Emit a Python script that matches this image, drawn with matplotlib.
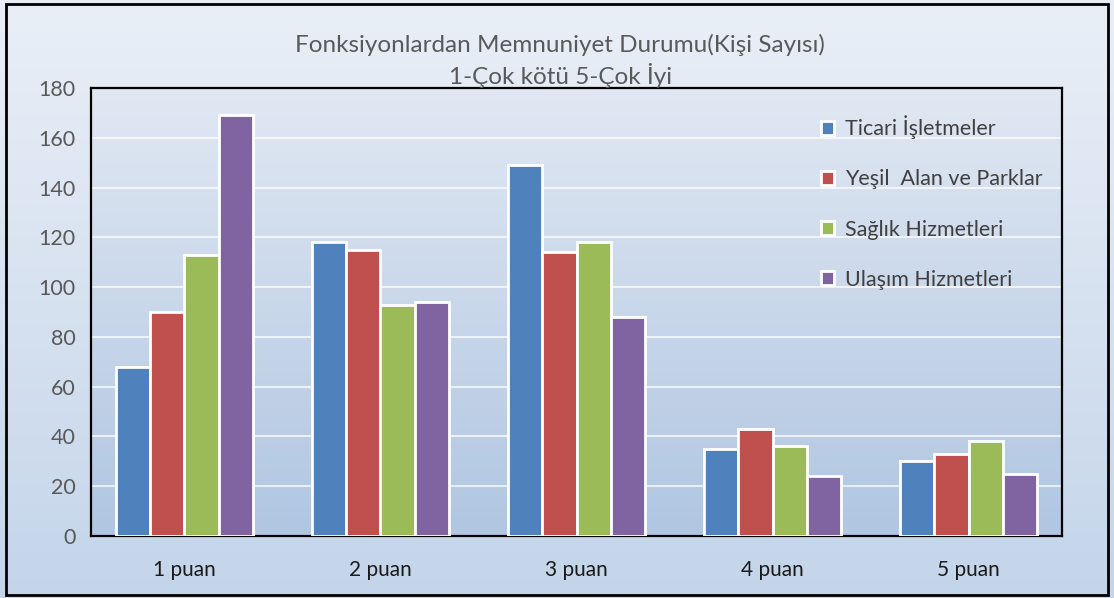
import numpy as np
import matplotlib
matplotlib.use("Agg")
import matplotlib.pyplot as plt
from matplotlib.colors import LinearSegmentedColormap

plt.rcParams['font.family'] = ['Lato', 'DejaVu Sans']

categories = ["1 puan", "2 puan", "3 puan", "4 puan", "5 puan"]
ticari = [68, 118, 149, 35, 30]
yesil = [90, 115, 114, 43, 33]
saglik = [113, 93, 118, 36, 38]
ulasim = [169, 94, 88, 24, 25]
series_names = ["Ticari İşletmeler", "Yeşil  Alan ve Parklar", "Sağlık Hizmetleri", "Ulaşım Hizmetleri"]
colors = ["#4f81bd", "#c0504d", "#9bbb59", "#8064a2"]

fig = plt.figure(figsize=(11.14, 5.98), dpi=100)

# background gradient for the whole chart
bg = fig.add_axes([0, 0, 1, 1], zorder=0)
bg_cmap = LinearSegmentedColormap.from_list("bg", ["#c4d5ea", "#eaeff7"])
bg.imshow(np.linspace(0, 1, 256).reshape(-1, 1), aspect="auto", cmap=bg_cmap,
          origin="lower", extent=[0, 1, 0, 1])
bg.set_xlim(0, 1)
bg.set_ylim(0, 1)
bg.axis("off")
bg.add_patch(plt.Rectangle((6 / 1114, 3 / 598), 1102 / 1114, 591 / 598, fill=False,
                           edgecolor="black", linewidth=2))

W, H = 1114, 598
ax = fig.add_axes([91 / W, 1 - 536 / H, 971 / W, 448 / H], zorder=1)
ax.set_facecolor("none")
x = np.arange(len(categories))
ax.set_xlim(-0.477, 4.477)
ax.set_ylim(0, 180)

# plot area gradient
ax_cmap = LinearSegmentedColormap.from_list("pa", ["#b0c6e1", "#e1e8f3"])
ax.imshow(np.linspace(0, 1, 256).reshape(-1, 1), aspect="auto", cmap=ax_cmap,
          origin="lower", extent=[-0.477, 4.477, 0, 180], zorder=0)

ax.set_yticks(range(0, 181, 20))
ax.grid(axis="y", color="white", linewidth=1.5, alpha=0.7, zorder=1)
ax.set_axisbelow(True)

bw = 0.175
data = [ticari, yesil, saglik, ulasim]
for i, (vals, name, c) in enumerate(zip(data, series_names, colors)):
    ax.bar(x + (i - 1.5) * bw, vals, bw, color=c, edgecolor="white",
           linewidth=2, label=name, zorder=3)

ax.set_xticks(x)
ax.set_xticklabels(categories, fontsize=15, color="#1a1a1a")
ax.tick_params(axis="y", length=0, labelsize=15.5, labelcolor="#595959", pad=11)
ax.tick_params(axis="x", length=0, pad=17)
for s in ax.spines.values():
    s.set_color("black")
    s.set_linewidth(1.6)

leg = ax.legend(loc="upper left", bbox_to_anchor=(0.732, 0.982), frameon=False,
                fontsize=15.5, labelspacing=1.4, handlelength=0.6,
                handleheight=0.6, handletextpad=0.5)
for t in leg.get_texts():
    t.set_color("#404040")

fig.text(0.503, 0.925, "Fonksiyonlardan Memnuniyet Durumu(Kişi Sayısı)",
         ha="center", va="center", fontsize=17.5, color="#595959")
fig.text(0.503, 0.873, "1-Çok kötü 5-Çok İyi",
         ha="center", va="center", fontsize=17.5, color="#595959")

fig.savefig("out.png", dpi=100)
